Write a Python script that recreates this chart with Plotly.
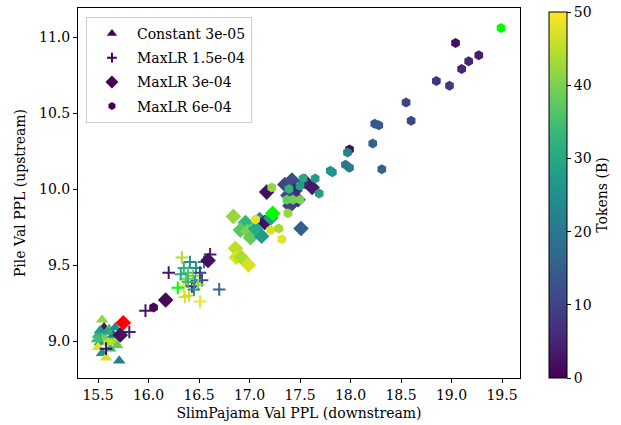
import plotly.graph_objects as go

# ---- data ----
# Constant 3e-05 (triangles)
const_x = [15.54, 15.56, 15.61, 15.67, 15.50, 15.57, 15.64, 15.52, 15.67, 15.50,
           15.62, 15.54, 15.58, 15.71, 15.69, 15.65, 15.59, 15.52, 15.49, 15.60]
const_y = [9.14, 9.09, 9.08, 9.09, 9.04, 9.02, 9.02, 8.99, 8.99, 8.96,
           8.95, 8.92, 8.89, 8.87, 8.97, 9.04, 9.06, 9.07, 9.01, 8.99]
const_c = [42, 3, 36, 24, 33, 40, 42, 27, 44, 48,
           34, 24, 47, 22, 38, 20, 30, 28, 35, 45]

# MaxLR 1.5e-04 (plus)
lr15_x = [15.58, 15.81, 15.97, 16.20, 16.33, 16.61, 16.35, 16.36, 16.40, 16.51,
          16.70, 16.41, 16.35, 16.47, 16.39, 16.44, 16.51, 16.53, 16.37, 16.46,
          16.43, 16.49, 16.39, 16.32, 16.55, 16.45]
lr15_y = [8.95, 9.06, 9.20, 9.45, 9.55, 9.57, 9.36, 9.29, 9.30, 9.26,
          9.34, 9.52, 9.48, 9.48, 9.45, 9.43, 9.45, 9.40, 9.41, 9.39,
          9.36, 9.37, 9.39, 9.44, 9.52, 9.34]
lr15_c = [2, 4, 3, 3, 44, 4, 48, 47, 46, 49,
          17, 24, 32, 26, 36, 40, 10, 12, 38, 28,
          5, 42, 33, 30, 22, 25]

# MaxLR 3e-04 (diamonds)
lr3_x = [15.72, 16.17, 16.59, 16.84, 16.96, 16.91, 16.98, 17.01, 17.12, 17.10,
         16.86, 16.87, 16.92, 16.99, 17.15, 17.17, 17.51, 17.35, 17.42, 17.45,
         17.55, 17.62, 17.38, 17.48, 17.40, 17.06, 17.21]
lr3_y = [9.04, 9.27, 9.53, 9.82, 9.78, 9.73, 9.72, 9.68, 9.69, 9.80,
         9.61, 9.55, 9.55, 9.50, 9.78, 9.98, 9.74, 10.03, 10.06, 9.99,
         10.05, 10.01, 9.96, 9.93, 9.89, 9.74, 9.81]
lr3_c = [2, 1, 2, 42, 33, 37, 40, 38, 27, 25,
         45, 47, 44, 47, 2, 2, 15, 10, 12, 5,
         4, 3, 12, 6, 10, 30, 28]

# MaxLR 6e-04 (hexagons)
lr6_x = [19.04, 19.27, 19.17, 19.10, 18.85, 18.98, 18.55, 18.60, 18.24, 18.28,
         18.22, 17.99, 17.97, 17.95, 17.99, 18.31, 17.82, 17.80, 17.65, 17.53,
         17.69, 17.50, 17.39, 17.22, 17.37, 17.43, 17.50, 17.38, 17.06, 17.21,
         17.29, 17.32, 16.05]
lr6_y = [10.96, 10.88, 10.84, 10.79, 10.71, 10.68, 10.57, 10.45, 10.43, 10.42,
         10.30, 10.26, 10.24, 10.16, 10.14, 10.13, 10.11, 10.12, 10.07, 10.07,
         9.97, 10.02, 10.00, 10.01, 9.93, 9.93, 9.93, 9.84, 9.80, 9.73,
         9.74, 9.67, 9.22]
lr6_c = [2, 4, 5, 5, 7, 8, 10, 11, 13, 14,
         16, 1, 22, 20, 21, 15, 25, 26, 27, 30,
         28, 27, 32, 42, 38, 39, 40, 42, 48, 47,
         43, 48, 1]

# highlighted points
red_x, red_y = [15.75], [9.12]                      # diamond, red
lime_plus_x, lime_plus_y = [16.29], [9.35]
lime_dia_x, lime_dia_y = [17.23], [9.84]
lime_hex_x, lime_hex_y = [19.49], [11.06]

legend_names = ["Constant 3e-05", "MaxLR 1.5e-04", "MaxLR 3e-04", "MaxLR 6e-04"]

FONT = "DejaVu Serif"
DARK = "#440154"

fig = go.Figure()

fig.add_trace(go.Scatter(x=const_x, y=const_y, mode="markers", showlegend=False,
                         marker=dict(symbol="triangle-up", size=11, color=const_c,
                                     coloraxis="coloraxis", line=dict(width=0))))
fig.add_trace(go.Scatter(x=lr15_x, y=lr15_y, mode="markers", showlegend=False,
                         marker=dict(symbol="cross-thin", size=9,
                                     line=dict(width=2, color=lr15_c, coloraxis="coloraxis"))))
fig.add_trace(go.Scatter(x=lr3_x, y=lr3_y, mode="markers", showlegend=False,
                         marker=dict(symbol="diamond", size=12, color=lr3_c,
                                     coloraxis="coloraxis", line=dict(width=0))))
fig.add_trace(go.Scatter(x=lr6_x, y=lr6_y, mode="markers", showlegend=False,
                         marker=dict(symbol="hexagon", size=10, color=lr6_c,
                                     coloraxis="coloraxis", line=dict(width=0))))

# highlights
fig.add_trace(go.Scatter(x=red_x, y=red_y, mode="markers", showlegend=False,
                         marker=dict(symbol="diamond", size=12, color="red", line=dict(width=0))))
fig.add_trace(go.Scatter(x=lime_plus_x, y=lime_plus_y, mode="markers", showlegend=False,
                         marker=dict(symbol="cross-thin", size=9, line=dict(width=2, color="#00ff00"))))
fig.add_trace(go.Scatter(x=lime_dia_x, y=lime_dia_y, mode="markers", showlegend=False,
                         marker=dict(symbol="diamond", size=12, color="#00ff00", line=dict(width=0))))
fig.add_trace(go.Scatter(x=lime_hex_x, y=lime_hex_y, mode="markers", showlegend=False,
                         marker=dict(symbol="hexagon", size=10, color="#00ff00", line=dict(width=0))))

# legend entries
leg_markers = [
    dict(symbol="triangle-up", size=9, color=DARK, line=dict(width=0)),
    dict(symbol="cross-thin", size=7, line=dict(width=2, color=DARK)),
    dict(symbol="diamond", size=10, color=DARK, line=dict(width=0)),
    dict(symbol="hexagon", size=8, color=DARK, line=dict(width=0)),
]
for i, (name, mk) in enumerate(zip(legend_names, leg_markers)):
    fig.add_trace(go.Scatter(x=[None], y=[None], mode="markers", name=name,
                             legendgroup=f"g{i}", marker=mk))

axis_common = dict(showline=True, linecolor="black", linewidth=1, mirror=True,
                   ticks="outside", ticklen=4, tickwidth=1, tickcolor="black",
                   showgrid=False, zeroline=False,
                   tickfont=dict(family=FONT, size=14, color="black"))

fig.update_layout(
    width=621, height=425,
    margin=dict(l=78, r=101, t=8, b=47),
    paper_bgcolor="white", plot_bgcolor="white",
    font=dict(family=FONT, size=14, color="black"),
    xaxis=dict(range=[15.302, 19.678], dtick=0.5, tick0=15.5, tickformat=".1f",
               title=dict(text="SlimPajama Val PPL (downstream)", standoff=6,
                          font=dict(family=FONT, size=14)),
               automargin=False, **axis_common),
    yaxis=dict(range=[8.757, 11.191], dtick=0.5, tick0=9.0, tickformat=".1f",
               title=dict(text="Pile Val PPL (upstream)", standoff=10,
                          font=dict(family=FONT, size=14)),
               automargin=False, **axis_common),
    coloraxis=dict(
        colorscale="Viridis", cmin=0, cmax=50,
        colorbar=dict(
            x=1.066, xanchor="left", xpad=0, ypad=0,
            y=0, yanchor="bottom", len=0.989, lenmode="fraction",
            thickness=18, thicknessmode="pixels",
            outlinewidth=1, outlinecolor="black",
            ticks="outside", ticklen=4, tickcolor="black",
            tickvals=[0, 10, 20, 30, 40, 50],
            tickfont=dict(family=FONT, size=14, color="black"),
            title=dict(text="Tokens (B)", side="right",
                       font=dict(family=FONT, size=14, color="black")),
        ),
    ),
    legend=dict(x=0.018, y=0.976, xanchor="left", yanchor="top",
                bgcolor="white", bordercolor="#cccccc", borderwidth=1,
                font=dict(family=FONT, size=14, color="black"),
                traceorder="grouped", tracegroupgap=3, itemwidth=40),
)

fig.write_html("out.html", config={"displayModeBar": False},
               post_script="document.body.style.margin='0';document.body.style.padding='0';")
